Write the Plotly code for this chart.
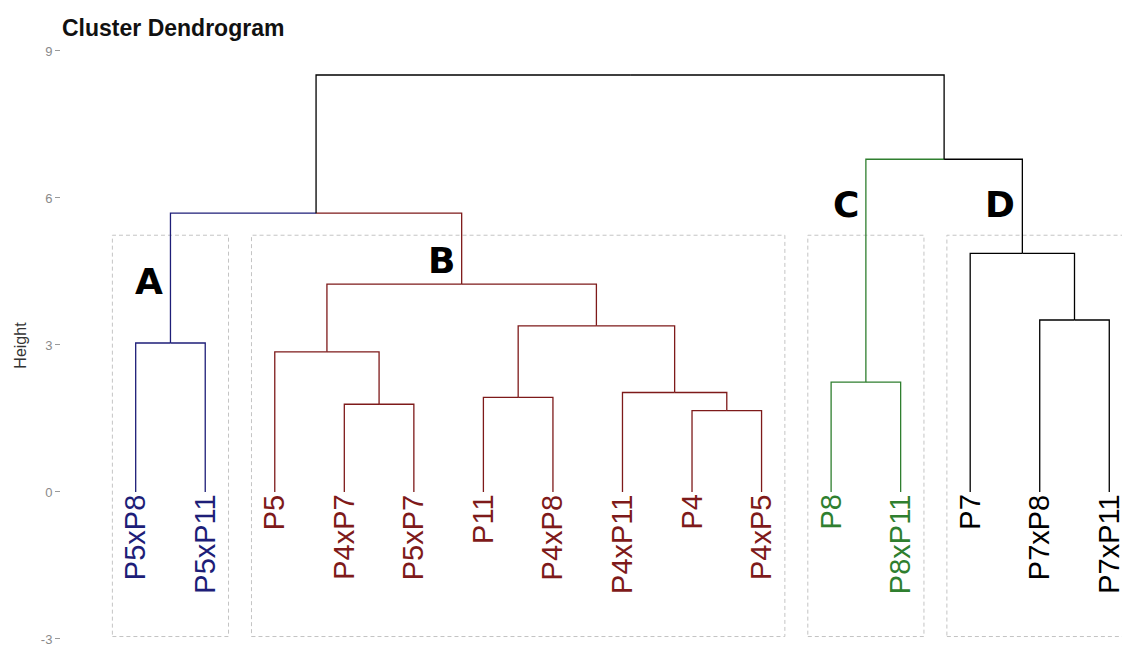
import plotly.graph_objects as go

# ---------------- data ----------------
leaf_labels = ["P5xP8", "P5xP11", "P5", "P4xP7", "P5xP7", "P11", "P4xP8",
               "P4xP11", "P4", "P4xP5", "P8", "P8xP11", "P7", "P7xP8", "P7xP11"]

# merges: (left child, right child, height); children are leaf names or "m<i>"
merge_left = ["P5xP8", "P4xP7", "P5", "P11", "P4", "P4xP11", "m3", "m2",
              "P8", "P7xP8", "P7", "m0", "m8", "m11"]
merge_right = ["P5xP11", "P5xP7", "m1", "P4xP8", "P4xP5", "m4", "m5", "m6",
               "P8xP11", "P7xP11", "m9", "m7", "m10", "m12"]
merge_height = [3.04, 1.79, 2.86, 1.93, 1.66, 2.03, 3.39, 4.24,
                2.24, 3.51, 4.87, 5.69, 6.79, 8.51]

cluster_names = ["A", "B", "C", "D"]
cluster_top = ["m0", "m7", "m8", "m10"]          # top node of each cluster
cluster_colors = ["#1E1E78", "#7E1A1A", "#2F7F2F", "#000000"]

y_ticks = [-3, 0, 3, 6, 9]
y_tick_text = ["-3", "0", "3", "6", "9"]

# ---------------- tree geometry ----------------
node_x = {lab: i + 1 for i, lab in enumerate(leaf_labels)}
node_h = {lab: 0.0 for lab in leaf_labels}
children = {}
for i, (l, r, h) in enumerate(zip(merge_left, merge_right, merge_height)):
    name = f"m{i}"
    node_x[name] = (node_x[l] + node_x[r]) / 2
    node_h[name] = h
    children[name] = (l, r)

def descendants(n):
    if n not in children:
        return [n]
    l, r = children[n]
    return descendants(l) + descendants(r)

node_color = {}
for top, col in zip(cluster_top, cluster_colors):
    stack = [top]
    while stack:
        n = stack.pop()
        node_color[n] = col
        if n in children:
            stack.extend(children[n])

segs = {}
for parent, (l, r) in children.items():
    for c in (l, r):
        col = node_color.get(c, "#000000")
        xs, ys = segs.setdefault(col, ([], []))
        xs += [node_x[parent], node_x[c], node_x[c], None]
        ys += [node_h[parent], node_h[parent], node_h[c], None]

fig = go.Figure()
for col, (xs, ys) in segs.items():
    fig.add_trace(go.Scatter(x=xs, y=ys, mode="lines",
                             line=dict(color=col, width=1.3),
                             hoverinfo="skip", showlegend=False))

# ---------------- cluster boxes & letters ----------------
box_pad = 0.335
box_top = 5.24
box_bottom = -2.95
letter_y = [4.29, 4.72, 5.86, 5.86]
for name, top, ly in zip(cluster_names, cluster_top, letter_y):
    leaves = descendants(top)
    xs = [node_x[l] for l in leaves]
    fig.add_shape(type="rect", xref="x", yref="y",
                  x0=min(xs) - box_pad, x1=max(xs) + box_pad,
                  y0=box_bottom, y1=box_top,
                  line=dict(color="#c4c4c4", width=1, dash="4px,3px"),
                  fillcolor="rgba(0,0,0,0)", layer="below")
    fig.add_annotation(x=node_x[top], y=ly, xref="x", yref="y",
                       text=f"<b>{name}</b>", showarrow=False,
                       xanchor="right", yanchor="middle", xshift=-5,
                       font=dict(family="DejaVu Sans", size=36, color="#000000"))

# ---------------- leaf labels ----------------
for lab in leaf_labels:
    fig.add_annotation(x=node_x[lab], y=0, xref="x", yref="y",
                       text=lab, showarrow=False, textangle=-90,
                       xanchor="center", yanchor="top", yshift=-1,
                       font=dict(family="Liberation Sans", size=29,
                                 color=node_color.get(lab, "#000000")))

# ---------------- axis title & chart title ----------------
fig.add_annotation(text="Height", xref="paper", yref="y", x=-0.038, y=3,
                   showarrow=False, textangle=-90, xanchor="center", yanchor="middle",
                   font=dict(family="Liberation Sans", size=16, color="#333333"))

fig.update_layout(
    width=1122, height=648,
    margin=dict(l=61, r=0, t=40, b=0),
    paper_bgcolor="white", plot_bgcolor="white",
    title=dict(text="<b>Cluster Dendrogram</b>", x=62 / 1122, xref="container",
               xanchor="left", y=1 - 28 / 648, yref="container", yanchor="middle",
               font=dict(family="Liberation Sans", size=23, color="#111111")),
    xaxis=dict(range=[-0.074, 15.183], visible=False, fixedrange=True),
    yaxis=dict(range=[-3.184, 9.224], tickvals=y_ticks, ticktext=y_tick_text,
               ticks="outside", ticklen=5, tickcolor="#9a9a9a", tickwidth=1,
               tickfont=dict(family="Liberation Sans", size=13, color="#8a8a8a"),
               showgrid=False, zeroline=False, showline=False, fixedrange=True),
)

fig.write_html("out.html",
               config={"displayModeBar": False, "staticPlot": True},
               post_script="document.body.style.margin='0';document.body.style.overflow='hidden';")
